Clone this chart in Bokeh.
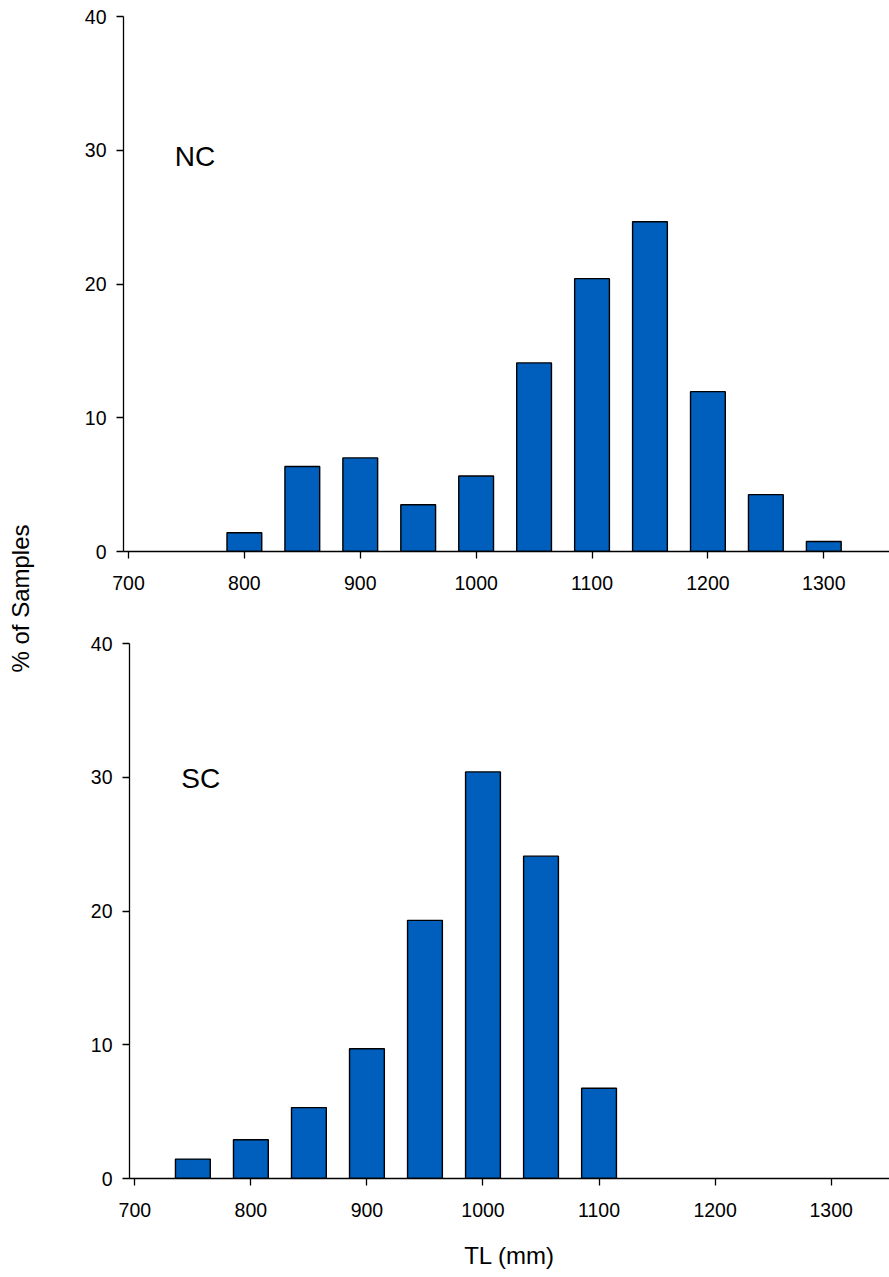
from bokeh.plotting import figure
from bokeh.models import Range1d, Label, FixedTicker, Spacer
from bokeh.layouts import row, column
from bokeh.embed import file_html
from bokeh.resources import INLINE
import math

# ---- data ----
nc_bins = [800, 850, 900, 950, 1000, 1050, 1100, 1150, 1200, 1250, 1300]
nc_pct = [1.4, 6.35, 7.0, 3.5, 5.65, 14.1, 20.4, 24.65, 11.95, 4.25, 0.75]
sc_bins = [750, 800, 850, 900, 950, 1000, 1050, 1100]
sc_pct = [1.45, 2.9, 5.3, 9.7, 19.3, 30.4, 24.1, 6.75]
x_ticks = [700, 800, 900, 1000, 1100, 1200, 1300]
y_ticks = [0, 10, 20, 30, 40]
panel_names = ["NC", "SC"]
x_title = "TL (mm)"
y_title = "% of Samples"

FONT = "Liberation Sans"
BAR = "#005EBD"
W_LAB = 60
SHIFT = 6
TOTAL_W = 889
TOTAL_H = 1277


def make_panel(bins, pct, name, width, height, x0, x1, mbl, mbt, mbb, label_y, xlabel=None):
    p = figure(width=width, height=height, output_backend="svg",
               toolbar_location=None, x_range=Range1d(x0, x1), y_range=Range1d(0, 40),
               min_border_left=mbl, min_border_right=0, min_border_top=mbt,
               min_border_bottom=mbb)
    p.vbar(x=bins, top=pct, width=30, fill_color=BAR, line_color="black", line_width=1.4)
    p.outline_line_color = None
    p.grid.visible = False
    p.background_fill_color = "white"
    p.border_fill_color = "white"
    p.xaxis.ticker = FixedTicker(ticks=x_ticks)
    p.yaxis.ticker = FixedTicker(ticks=y_ticks)
    for ax in (p.xaxis, p.yaxis):
        ax.major_tick_out = 7
        ax.major_tick_in = 0
        ax.minor_tick_out = 0
        ax.minor_tick_in = 0
        ax.major_label_text_font = FONT
        ax.major_label_text_font_size = "19.5px"
        ax.major_label_text_color = "black"
        ax.axis_line_color = "black"
        ax.major_tick_line_color = "black"
    p.xaxis.axis_line_width = 1.6
    p.xaxis.major_tick_line_width = 1.3
    p.yaxis.axis_line_width = 1.3
    p.yaxis.major_tick_line_width = 1.3
    p.xaxis.major_label_standoff = 17
    p.yaxis.major_label_standoff = 10
    if xlabel:
        p.xaxis.axis_label = xlabel
        p.xaxis.axis_label_text_font = FONT
        p.xaxis.axis_label_text_font_size = "24px"
        p.xaxis.axis_label_text_font_style = "normal"
        p.xaxis.axis_label_text_color = "black"
        p.xaxis.axis_label_standoff = 22
    lab = Label(x=740, y=label_y, text=name, text_font=FONT, text_font_size="28px",
                text_color="black", text_align="left", text_baseline="alphabetic")
    p.add_layout(lab)
    return p


H1 = 615
p1 = make_panel(nc_bins, nc_pct, panel_names[0], TOTAL_W - W_LAB, H1,
                695.7, 1356.7, 63, 16, H1 - 16 - 535, 29.5)
H2 = TOTAL_H - H1
p2 = make_panel(sc_bins, sc_pct, panel_names[1], TOTAL_W - W_LAB - SHIFT, H2,
                695.4, 1350.3, 63, 28, H2 - 28 - 535, 29.9, xlabel=x_title)

# left strip carrying the shared y title
lf = figure(width=W_LAB, height=TOTAL_H, output_backend="svg", toolbar_location=None,
            x_range=Range1d(0, W_LAB), y_range=Range1d(0, TOTAL_H),
            min_border=0, min_border_left=0, min_border_right=0,
            min_border_top=0, min_border_bottom=0)
lf.axis.visible = False
lf.grid.visible = False
lf.outline_line_color = None
lf.add_layout(Label(x=20, y=TOTAL_H - 598, text=y_title, angle=math.pi / 2,
                    text_font=FONT, text_font_size="24px", text_color="black",
                    text_align="center", text_baseline="alphabetic"))

layout = row(lf, column(p1, row(Spacer(width=SHIFT, height=H2), p2)))
open("out.html", "w").write(file_html(layout, INLINE))
